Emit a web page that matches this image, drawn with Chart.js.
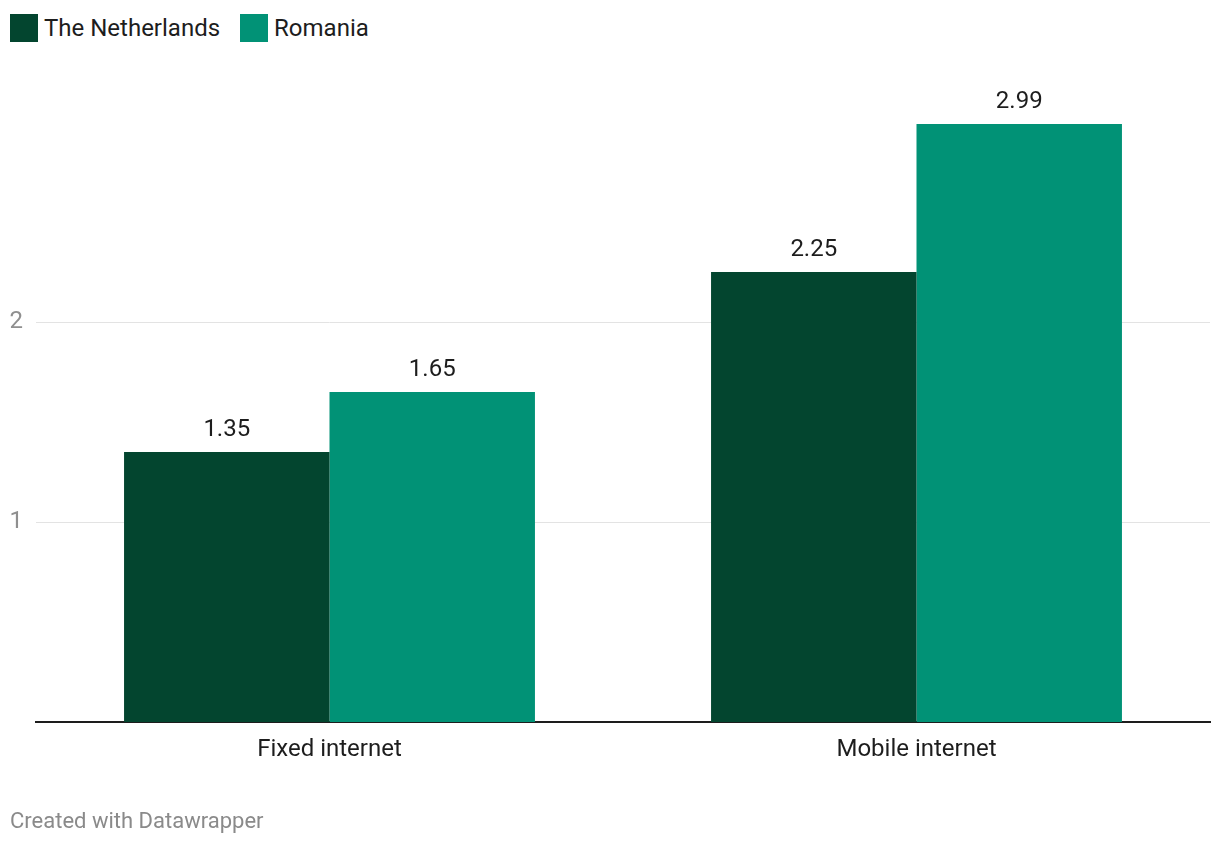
<!DOCTYPE html>
<html>
<head>
<meta charset="utf-8">
<script src="https://cdn.jsdelivr.net/npm/chart.js@4"></script>
<style>
    html, body { margin: 0; padding: 0; background: #fff; }
    body { width: 1220px; height: 844px; position: relative; overflow: hidden; font-family: Roboto, sans-serif; }
    #chart { position: absolute; left: 0; top: 0; }
    .legend { position: absolute; top: 14px; left: 10px; display: flex; align-items: center; font-size: 24px; color: #1d1d1d; }
    .legend .item { display: flex; align-items: center; margin-right: 20px; }
    .legend .box { width: 28px; height: 28px; margin-right: 6px; }
    .footer { position: absolute; left: 10px; top: 808px; font-size: 22px; color: #8a8a8a; }
</style>
</head>
<body>
<div class="legend" id="legend"></div>
<canvas id="chart" width="1220" height="844"></canvas>
<div class="footer">Created with Datawrapper</div>
<script>
// data
const categories = ['Fixed internet', 'Mobile internet'];
const seriesNames = ['The Netherlands', 'Romania'];
const netherlandsValues = [1.35, 2.25];
const romaniaValues = [1.65, 2.99];
const yTicks = [1, 2];

const colors = ['#03452f', '#019276'];

// legend in html
const legend = document.getElementById('legend');
seriesNames.forEach((name, i) => {
    const item = document.createElement('div');
    item.className = 'item';
    item.innerHTML = '<div class="box" style="background:' + colors[i] + '"></div><span>' + name + '</span>';
    legend.appendChild(item);
});

// draws the value above each bar
const valueLabels = {
    id: 'valueLabels',
    afterDatasetsDraw(chart) {
        const ctx = chart.ctx;
        ctx.save();
        ctx.font = '24px Roboto';
        ctx.fillStyle = '#1d1d1d';
        ctx.textAlign = 'center';
        ctx.textBaseline = 'alphabetic';
        chart.data.datasets.forEach((ds, i) => {
            chart.getDatasetMeta(i).data.forEach((bar, j) => {
                ctx.fillText(ds.data[j].toFixed(2), bar.x, bar.y - 16);
            });
        });
        ctx.restore();
    }
};

new Chart(document.getElementById('chart').getContext('2d'), {
    type: 'bar',
    data: {
        labels: categories,
        datasets: [
            { label: seriesNames[0], data: netherlandsValues, backgroundColor: colors[0] },
            { label: seriesNames[1], data: romaniaValues, backgroundColor: colors[1] }
        ]
    },
    options: {
        responsive: false,
        animation: false,
        devicePixelRatio: 1,
        layout: { padding: { top: 122, right: 10, left: 0, bottom: 0 } },
        datasets: { bar: { categoryPercentage: 0.7, barPercentage: 1.0 } },
        scales: {
            x: {
                grid: { display: false, drawTicks: false },
                border: { display: true, color: '#1d1d1d', width: 2 },
                ticks: { color: '#1d1d1d', font: { family: 'Roboto', size: 24 }, padding: 14, maxRotation: 0 },
                afterFit(scale) { scale.height = 122; }
            },
            y: {
                min: 0,
                max: 3,
                afterBuildTicks(scale) {
                    scale.ticks = yTicks.map(v => ({ value: v }));
                },
                grid: { color: '#e3e3e3', lineWidth: 1, drawTicks: false },
                border: { display: false },
                ticks: { color: '#8f8f8f', font: { family: 'Roboto', size: 24 }, padding: 13 },
                afterFit(scale) { scale.width = 36; }
            }
        },
        plugins: {
            legend: { display: false },
            tooltip: { enabled: false }
        }
    },
    plugins: [valueLabels]
});
</script>
</body>
</html>
